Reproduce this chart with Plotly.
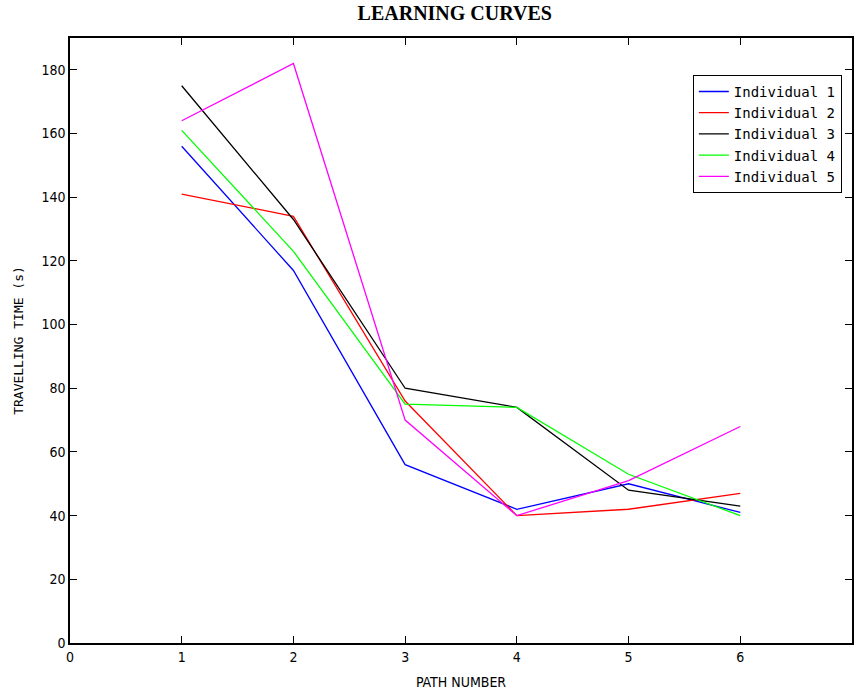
import plotly.graph_objects as go

path_number = [1, 2, 3, 4, 5, 6]
individual_1 = [156, 117, 56, 42, 50, 41]
individual_2 = [141, 134, 76, 40, 42, 47]
individual_3 = [175, 133, 80, 74, 48, 43]
individual_4 = [161, 123, 75, 74, 53, 40]
individual_5 = [164, 182, 70, 40, 51, 68]

series = [
    ("Individual 1", individual_1, "#0000ff"),
    ("Individual 2", individual_2, "#ff0000"),
    ("Individual 3", individual_3, "#000000"),
    ("Individual 4", individual_4, "#00ff00"),
    ("Individual 5", individual_5, "#ff00ff"),
]

x_ticks = [0, 1, 2, 3, 4, 5, 6, 7]
y_ticks = [0, 20, 40, 60, 80, 100, 120, 140, 160, 180]

fig = go.Figure()
for name, vals, col in series:
    fig.add_trace(go.Scatter(x=path_number, y=vals, mode="lines", name=name,
                             line=dict(color=col, width=1.3)))

tick_font = dict(family="Liberation Sans Narrow, DejaVu Sans Condensed, sans-serif", size=14, color="#000")

fig.update_layout(
    width=854, height=694,
    margin=dict(l=70, r=2, t=38, b=51, autoexpand=False),
    paper_bgcolor="white", plot_bgcolor="white",
    title=dict(text="<b>LEARNING CURVES</b>", x=0.492, xanchor="center", xref="paper",
               y=0.981, yref="container", yanchor="middle", automargin=False,
               font=dict(family="Liberation Serif, Times New Roman, serif", size=20, color="#000")),
    xaxis=dict(range=[0, 7], tickvals=x_ticks, ticks="inside", ticklen=7, tickcolor="#000",
               showline=True, linecolor="#000", linewidth=1.5, mirror="ticks", showgrid=False,
               zeroline=False, tickfont=tick_font, automargin=False,
               title=dict(text="PATH NUMBER", font=tick_font, standoff=14)),
    yaxis=dict(range=[0, 190], tickvals=y_ticks, ticks="inside", ticklen=7, tickcolor="#000",
               showline=True, linecolor="#000", linewidth=1.5, mirror="ticks", showgrid=False,
               zeroline=False, tickfont=tick_font, automargin=False,
               title=dict(text="TRAVELLING TIME (s)", font=dict(family="DejaVu Sans Mono, monospace", size=13, color="#000"), standoff=15)),
    legend=dict(x=0.987, xanchor="right", y=0.939, yanchor="top", bgcolor="white",
                bordercolor="#000", borderwidth=1,
                font=dict(family="DejaVu Sans Mono, monospace", size=14, color="#000"),
                tracegroupgap=0),
    showlegend=True,
)

fig.write_html("out.html", config={"displayModeBar": False},
               post_script="document.body.style.margin='0px';")
